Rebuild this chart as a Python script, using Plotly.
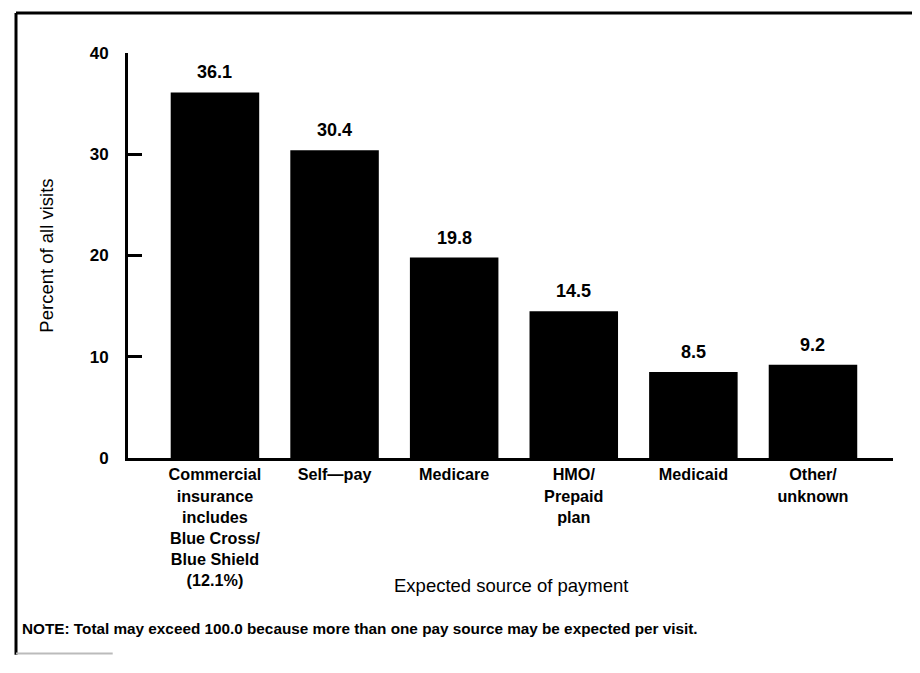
import plotly.graph_objects as go

categories = [
    "Commercial<br>insurance<br>includes<br>Blue Cross/<br>Blue Shield<br>(12.1%)",
    "Self\u2014pay",
    "Medicare",
    "HMO/<br>Prepaid<br>plan",
    "Medicaid",
    "Other/<br>unknown",
]
percent_values = [36.1, 30.4, 19.8, 14.5, 8.5, 9.2]
value_labels = ["36.1", "30.4", "19.8", "14.5", "8.5", "9.2"]
y_ticks = [0, 10, 20, 30, 40]

FONT = "Liberation Sans"

fig = go.Figure(
    go.Bar(
        x=categories,
        y=percent_values,
        marker=dict(color="black", line=dict(width=0)),
        hoverinfo="skip",
    )
)

for cat, val, lab in zip(categories, percent_values, value_labels):
    fig.add_annotation(
        x=cat, y=val, text=lab, xref="x", yref="y",
        yanchor="bottom", xanchor="center", yshift=8, showarrow=False,
        font=dict(family=FONT, size=18, color="black", weight="bold"),
    )

fig.update_layout(
    width=904,
    height=657,
    margin=dict(l=120, r=19, t=45, b=207),
    paper_bgcolor="white",
    plot_bgcolor="white",
    bargap=0.26,
    showlegend=False,
    font=dict(family=FONT, color="black"),
)

fig.update_xaxes(
    range=[-0.727, 5.669],
    showline=True,
    linecolor="black",
    linewidth=3,
    ticks="",
    showgrid=False,
    tickfont=dict(family=FONT, size=16.2, color="black", weight="bold"),
    automargin=False,
)

fig.update_yaxes(
    range=[0, 40],
    tickvals=y_ticks,
    showline=True,
    linecolor="black",
    linewidth=3,
    ticks="inside",
    ticklen=14,
    tickwidth=3,
    tickcolor="black",
    showgrid=False,
    zeroline=False,
    ticklabelstandoff=13,
    tickfont=dict(family=FONT, size=17, color="black", weight="bold"),
    automargin=False,
)

# Axis titles
fig.add_annotation(
    text="Expected source of payment",
    xref="paper", yref="paper", x=0.5, y=-0.3136,
    xanchor="center", yanchor="middle", showarrow=False,
    font=dict(family=FONT, size=18.5, color="black"),
)
fig.add_annotation(
    text="Percent of all visits",
    xref="paper", yref="paper", x=-0.107, y=0.5, textangle=-90,
    xanchor="center", yanchor="middle", showarrow=False,
    font=dict(family=FONT, size=18.5, color="black"),
)

fig.add_annotation(
    text="NOTE: Total may exceed 100.0 because more than one pay source may be expected per visit.",
    xref="paper", yref="paper", x=-0.141, y=-0.42,
    xanchor="left", yanchor="middle", showarrow=False,
    font=dict(family=FONT, size=15.3, color="black", weight="bold"),
)

# Frame around the figure
fig.add_shape(type="line", xref="paper", yref="paper", x0=-0.1464, x1=1.05, y0=1.0988, y1=1.0988,
              line=dict(color="black", width=3))
fig.add_shape(type="line", xref="paper", yref="paper", x0=-0.1464, x1=-0.1464, y0=1.0988, y1=-0.486,
              line=dict(color="black", width=3))
fig.add_shape(type="line", xref="paper", yref="paper", x0=-0.1464, x1=-0.02, y0=-0.483, y1=-0.483,
              line=dict(color="#bbbbbb", width=2))

fig.write_html("out.html")
